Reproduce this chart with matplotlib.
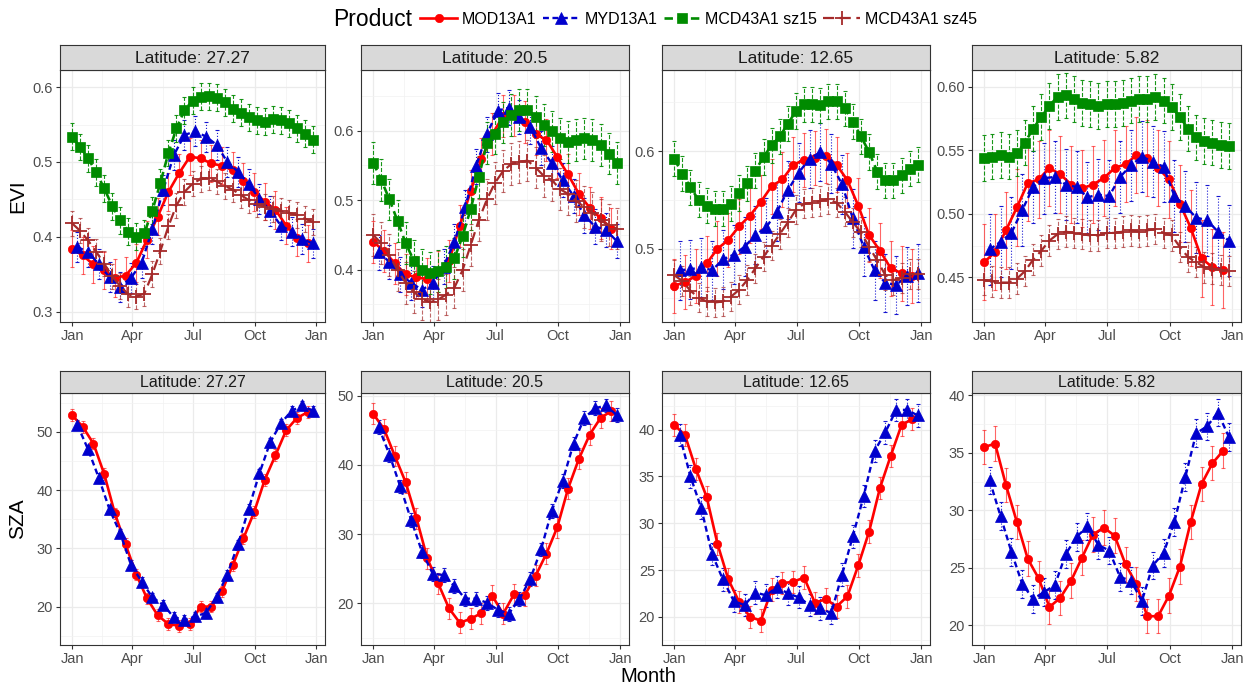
import numpy as np
import matplotlib
matplotlib.use("Agg")
import matplotlib.pyplot as plt

plt.rcParams['font.family'] = ['Liberation Sans', 'DejaVu Sans']

# ---- DATOS ----
# dia del año de cada producto
doy_mod = list(range(1, 354, 16))      # MOD13A1, 23 compuestos
doy_myd = list(range(9, 362, 16))      # MYD13A1, desfasado 8 dias
doy_mcd = list(range(1, 362, 12))      # MCD43A1, 31 valores

latitudes = ['27.27', '20.5', '12.65', '5.82']

# EVI - latitud 27.27
evi_mod_27 = [0.384, 0.375, 0.363, 0.355, 0.345, 0.348, 0.365, 0.396, 0.427, 0.460, 0.485, 0.507,
              0.505, 0.498, 0.495, 0.489, 0.474, 0.460, 0.447, 0.436, 0.415, 0.399, 0.391]
evi_myd_27 = [0.386, 0.380, 0.363, 0.346, 0.333, 0.345, 0.365, 0.410, 0.462, 0.509, 0.536, 0.541,
              0.534, 0.523, 0.500, 0.487, 0.470, 0.451, 0.435, 0.415, 0.407, 0.397, 0.391]
evi_s15_27 = [0.534, 0.520, 0.505, 0.486, 0.465, 0.441, 0.422, 0.407, 0.400, 0.405, 0.435, 0.472,
              0.512, 0.545, 0.569, 0.582, 0.587, 0.588, 0.586, 0.580, 0.571, 0.566, 0.560, 0.556,
              0.554, 0.557, 0.556, 0.552, 0.545, 0.538, 0.530]
evi_s45_27 = [0.418, 0.408, 0.395, 0.380, 0.364, 0.347, 0.334, 0.323, 0.320, 0.324, 0.350, 0.381,
              0.414, 0.442, 0.460, 0.471, 0.477, 0.479, 0.474, 0.468, 0.463, 0.456, 0.449, 0.444,
              0.440, 0.437, 0.435, 0.432, 0.429, 0.424, 0.420]

# EVI - latitud 20.5
evi_mod_20 = [0.440, 0.427, 0.409, 0.393, 0.389, 0.386, 0.397, 0.412, 0.463, 0.513, 0.559, 0.595,
              0.621, 0.622, 0.613, 0.595, 0.587, 0.562, 0.537, 0.509, 0.489, 0.474, 0.459]
evi_myd_20 = [0.425, 0.411, 0.393, 0.381, 0.371, 0.380, 0.404, 0.440, 0.490, 0.549, 0.595, 0.629,
              0.633, 0.620, 0.606, 0.575, 0.553, 0.529, 0.506, 0.478, 0.462, 0.457, 0.441]
evi_s15_20 = [0.554, 0.529, 0.501, 0.470, 0.438, 0.413, 0.400, 0.395, 0.398, 0.404, 0.416, 0.448,
              0.487, 0.533, 0.582, 0.596, 0.612, 0.623, 0.630, 0.630, 0.620, 0.608, 0.599, 0.589,
              0.584, 0.587, 0.589, 0.587, 0.579, 0.567, 0.554]
evi_s45_20 = [0.450, 0.438, 0.421, 0.399, 0.381, 0.368, 0.358, 0.353, 0.357, 0.364, 0.374, 0.399,
              0.435, 0.471, 0.501, 0.525, 0.542, 0.552, 0.555, 0.557, 0.547, 0.535, 0.529, 0.516,
              0.509, 0.499, 0.490, 0.482, 0.471, 0.464, 0.459]

# EVI - latitud 12.65
evi_mod_12 = [0.462, 0.466, 0.472, 0.485, 0.500, 0.509, 0.523, 0.534, 0.548, 0.564, 0.571, 0.586,
              0.591, 0.593, 0.595, 0.586, 0.570, 0.544, 0.514, 0.498, 0.480, 0.475, 0.472]
evi_myd_12 = [0.478, 0.479, 0.481, 0.478, 0.489, 0.494, 0.502, 0.514, 0.522, 0.538, 0.560, 0.578,
              0.592, 0.599, 0.587, 0.566, 0.531, 0.502, 0.478, 0.465, 0.463, 0.472, 0.475]
evi_s15_12 = [0.592, 0.577, 0.563, 0.550, 0.544, 0.541, 0.541, 0.546, 0.557, 0.567, 0.580, 0.594,
              0.606, 0.615, 0.628, 0.641, 0.648, 0.648, 0.647, 0.651, 0.651, 0.644, 0.630, 0.615,
              0.599, 0.579, 0.570, 0.570, 0.575, 0.582, 0.586]
evi_s45_12 = [0.473, 0.467, 0.457, 0.450, 0.446, 0.445, 0.446, 0.451, 0.458, 0.468, 0.480, 0.492,
              0.503, 0.515, 0.527, 0.540, 0.546, 0.547, 0.549, 0.551, 0.547, 0.538, 0.527, 0.517,
              0.502, 0.488, 0.473, 0.468, 0.470, 0.474, 0.474]

# EVI - latitud 5.82
evi_mod_5 = [0.462, 0.470, 0.487, 0.505, 0.524, 0.527, 0.536, 0.531, 0.523, 0.520, 0.523, 0.528,
             0.536, 0.539, 0.546, 0.544, 0.536, 0.527, 0.508, 0.489, 0.465, 0.458, 0.456]
evi_myd_5 = [0.472, 0.478, 0.485, 0.503, 0.521, 0.528, 0.529, 0.523, 0.521, 0.513, 0.515, 0.514,
             0.529, 0.538, 0.545, 0.541, 0.537, 0.514, 0.506, 0.497, 0.495, 0.486, 0.479]
evi_s15_5 = [0.544, 0.545, 0.546, 0.545, 0.548, 0.556, 0.567, 0.576, 0.585, 0.592, 0.593, 0.590,
             0.587, 0.586, 0.585, 0.586, 0.586, 0.587, 0.589, 0.590, 0.590, 0.592, 0.589, 0.584,
             0.576, 0.567, 0.560, 0.557, 0.556, 0.554, 0.553]
evi_s45_5 = [0.448, 0.447, 0.446, 0.446, 0.449, 0.455, 0.464, 0.471, 0.479, 0.484, 0.486, 0.485,
             0.484, 0.483, 0.483, 0.485, 0.485, 0.486, 0.487, 0.486, 0.487, 0.488, 0.485, 0.483,
             0.474, 0.466, 0.462, 0.458, 0.457, 0.456, 0.455]

# SZA
sza_mod_27 = [52.9, 50.9, 48.0, 42.8, 36.0, 30.7, 25.5, 21.4, 18.5, 17.0, 16.7, 17.0,
              20.0, 20.0, 22.6, 27.1, 31.7, 36.2, 41.8, 46.0, 50.3, 52.4, 53.4]
sza_myd_27 = [51.2, 47.0, 42.1, 36.7, 32.6, 27.2, 24.3, 21.6, 20.3, 18.2, 17.7, 18.3,
              18.9, 21.6, 25.5, 30.7, 36.8, 42.9, 48.2, 51.5, 53.6, 54.6, 53.6]
sza_mod_20 = [47.4, 45.2, 41.3, 37.5, 32.3, 26.5, 22.9, 19.3, 17.2, 17.8, 18.6, 21.1,
              18.5, 21.3, 21.2, 24.0, 27.2, 31.0, 36.6, 40.9, 44.4, 46.8, 47.8]
sza_myd_20 = [45.5, 41.5, 36.9, 32.1, 27.5, 24.3, 24.1, 22.5, 20.7, 20.7, 20.1, 19.1,
              18.5, 20.6, 23.5, 27.8, 33.4, 37.7, 43.1, 46.8, 48.2, 48.6, 47.2]
sza_mod_12 = [40.5, 39.4, 35.8, 32.8, 27.8, 24.0, 21.6, 20.0, 19.6, 22.9, 23.6, 23.75,
              24.2, 21.5, 21.9, 21.1, 22.2, 25.5, 29.1, 33.75, 37.2, 40.5, 41.1]
sza_myd_12 = [39.4, 35.0, 31.6, 26.7, 24.0, 21.7, 21.25, 22.6, 22.3, 23.2, 22.5, 22.1,
              21.25, 20.9, 20.4, 24.5, 28.6, 32.9, 37.7, 39.7, 42.1, 42.1, 41.5]
sza_mod_5 = [35.5, 35.8, 32.2, 29.0, 25.8, 24.1, 21.6, 22.4, 23.9, 25.9, 27.9, 28.5,
             27.8, 25.3, 23.6, 20.8, 20.8, 22.6, 25.1, 29.0, 32.3, 34.1, 35.2]
sza_myd_5 = [32.6, 29.5, 26.4, 23.6, 22.3, 22.9, 23.5, 26.2, 27.7, 28.6, 27.0, 26.5,
             24.2, 23.9, 22.1, 25.2, 26.3, 29.0, 32.9, 36.7, 37.3, 38.5, 36.4]

# desviacion aproximada de cada serie (barras de error)
evi_err = {'27.27': [0.025, 0.020, 0.018, 0.017],
           '20.5': [0.030, 0.025, 0.030, 0.030],
           '12.65': [0.028, 0.030, 0.018, 0.015],
           '5.82': [0.030, 0.028, 0.018, 0.012]}
sza_err = {'27.27': [1.0, 0.8], '20.5': [1.5, 1.0], '12.65': [1.2, 1.2], '5.82': [1.5, 1.2]}

evi_data = {'27.27': [evi_mod_27, evi_myd_27, evi_s15_27, evi_s45_27],
            '20.5': [evi_mod_20, evi_myd_20, evi_s15_20, evi_s45_20],
            '12.65': [evi_mod_12, evi_myd_12, evi_s15_12, evi_s45_12],
            '5.82': [evi_mod_5, evi_myd_5, evi_s15_5, evi_s45_5]}
sza_data = {'27.27': [sza_mod_27, sza_myd_27], '20.5': [sza_mod_20, sza_myd_20],
            '12.65': [sza_mod_12, sza_myd_12], '5.82': [sza_mod_5, sza_myd_5]}

productos = ['MOD13A1', 'MYD13A1', 'MCD43A1 sz15', 'MCD43A1 sz45']
x_series = [doy_mod, doy_myd, doy_mcd, doy_mcd]

# ---- ESTILOS ----
colores = ['#FF0000', '#0000CD', '#008B00', '#A52A2A']
marcas = ['o', '^', 's', '+']
tam_marca = [6, 8, 6.5, 10]
grosor = [1.9, 1.7, 1.9, 1.6]
guiones = [None, (2.5, 1.5), (3.2, 1.8), (5, 2.5)]
estilo_err = ['-', ':', '--', '--']
alfa_err = [0.6, 0.9, 0.9, 0.7]

evi_ylim = [(0.286, 0.623), (0.3245, 0.6875), (0.425, 0.683), (0.415, 0.613)]
evi_ticks = [[0.3, 0.4, 0.5, 0.6], [0.4, 0.5, 0.6], [0.5, 0.6], [0.45, 0.50, 0.55, 0.60]]
evi_fmt = ['%.1f', '%.1f', '%.1f', '%.2f']
sza_ylim = [(13.4, 56.7), (14.0, 50.4), (17.0, 43.9), (18.3, 40.2)]
sza_ticks = [[20, 30, 40, 50], [20, 30, 40, 50], [20, 25, 30, 35, 40], [20, 25, 30, 35, 40]]

mes_ticks = [1, 91, 182, 274, 366]
mes_labels = ['Jan', 'Apr', 'Jul', 'Oct', 'Jan']
xlim = (-17, 379)

W, H = 1251, 686
lefts = [60, 361, 662, 972]
rights = [325, 629, 930, 1241]


def caja(px_l, px_r, px_top, px_bot):
    return [px_l / W, 1 - px_bot / H, (px_r - px_l) / W, (px_bot - px_top) / H]


def estilo_panel(ax, ylim, yticks, fmt):
    ax.set_xlim(xlim)
    ax.set_ylim(ylim)
    ax.set_xticks(mes_ticks)
    ax.set_xticklabels(mes_labels)
    ax.set_yticks(yticks)
    ax.set_yticklabels([fmt % t for t in yticks])
    paso = yticks[1] - yticks[0]
    menores = np.arange(yticks[0] - paso / 2, ylim[1], paso)
    ax.set_yticks([m for m in menores if ylim[0] < m < ylim[1]], minor=True)
    ax.set_xticks([46, 136.5, 228, 320], minor=True)
    ax.grid(which='major', color='#EBEBEB', lw=0.9, zorder=0)
    ax.grid(which='minor', color='#F2F2F2', lw=0.5, zorder=0)
    ax.set_axisbelow(True)
    ax.tick_params(which='minor', length=0)
    ax.tick_params(which='major', length=3, color='#333333', labelsize=10.5,
                   labelcolor='#4D4D4D', width=0.8, pad=2)
    for s in ax.spines.values():
        s.set_color('#333333')
        s.set_linewidth(0.8)


def franja(px_l, px_r, px_top, px_bot, texto, fs):
    sx = fig.add_axes(caja(px_l, px_r, px_top, px_bot))
    sx.set_facecolor('#D9D9D9')
    sx.set_xticks([])
    sx.set_yticks([])
    for s in sx.spines.values():
        s.set_color('#333333')
        s.set_linewidth(0.8)
    sx.text(0.5, 0.47, texto, ha='center', va='center', fontsize=fs, color='#1A1A1A',
            transform=sx.transAxes)


def dibujar(ax, x, y, err, i):
    eb = ax.errorbar(x, y, yerr=err, fmt='none', ecolor=colores[i], elinewidth=0.8,
                     capsize=1.5, capthick=0.8, alpha=alfa_err[i], zorder=2)
    eb[2][0].set_linestyle(estilo_err[i])
    ln, = ax.plot(x, y, color=colores[i], lw=grosor[i], marker=marcas[i],
                  ms=tam_marca[i], mew=1.3 if marcas[i] == '+' else 0.5, zorder=3)
    if guiones[i] is not None:
        ln.set_dashes(guiones[i])
    return ln


fig = plt.figure(figsize=(W / 100, H / 100), dpi=100)
handles = []

for k, lat in enumerate(latitudes):
    ax = fig.add_axes(caja(lefts[k], rights[k], 70, 322))
    for i in range(4):
        ln = dibujar(ax, x_series[i], evi_data[lat][i], evi_err[lat][i], i)
        if k == 0:
            handles.append(ln)
    estilo_panel(ax, evi_ylim[k], evi_ticks[k], evi_fmt[k])
    franja(lefts[k], rights[k], 45, 70, 'Latitude: ' + lat, 12.5)

    bx = fig.add_axes(caja(lefts[k], rights[k], 393, 645))
    for i in range(2):
        dibujar(bx, x_series[i], sza_data[lat][i], sza_err[lat][i], i)
    estilo_panel(bx, sza_ylim[k], sza_ticks[k], '%d')
    franja(lefts[k], rights[k], 371, 393, 'Latitude: ' + lat, 11.5)

fig.text(18 / W, 1 - 196 / H, 'EVI', rotation=90, ha='center', va='center', fontsize=15)
fig.text(18 / W, 1 - 519 / H, 'SZA', rotation=90, ha='center', va='center', fontsize=15)
fig.text(648 / W, 1 - 677 / H, 'Month', ha='center', va='center', fontsize=14.5)

# leyenda horizontal arriba
fig.text(333 / W, 1 - 19 / H, 'Product', ha='left', va='center', fontsize=16.5)
fig.legend(handles, productos, ncol=4, loc='center left', bbox_to_anchor=(414 / W, 1 - 19 / H),
           frameon=False, fontsize=11.5, handlelength=2.3, handletextpad=0.3,
           columnspacing=0.4, borderaxespad=0)

fig.savefig('out.png', dpi=100)
